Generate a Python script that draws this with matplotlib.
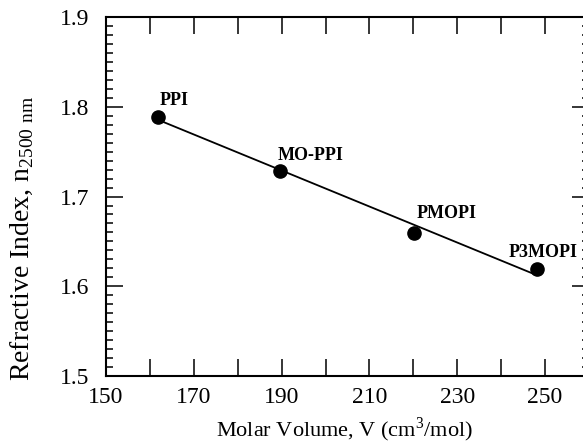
import numpy as np
import matplotlib.pyplot as plt
from matplotlib.ticker import MultipleLocator, FuncFormatter

# data
names = ['PPI', 'MO-PPI', 'PMOPI', 'P3MOPI']
molar_volume = [161.9, 189.6, 220.2, 248.1]
ref_index = [1.789, 1.729, 1.659, 1.619]
label_dx = [0.4, -0.6, 0.6, -6.3]
label_dy = [0.013, 0.012, 0.017, 0.0136]

plt.rcParams['font.family'] = ['Liberation Serif', 'DejaVu Serif']
plt.rcParams['mathtext.fontset'] = 'custom'
plt.rcParams['mathtext.rm'] = 'Liberation Serif'

fig = plt.figure(figsize=(5.83, 4.45), dpi=100)
ax = fig.add_axes([0.1818, 0.155, 0.8285, 0.8067])

# linear fit through the points
k, b = np.polyfit(molar_volume, ref_index, 1)
xs = np.array([molar_volume[0], molar_volume[-1]])
ax.plot(xs, k * xs + b, color='black', lw=1.3)
ax.plot(molar_volume, ref_index, 'o', color='black', markersize=9.5)

for n, x, y, dx, dy in zip(names, molar_volume, ref_index, label_dx, label_dy):
    ax.text(x + dx, y + dy, n, fontsize=13, fontweight='bold', ha='left', va='baseline')

ax.set_xlim(150, 260)
ax.set_ylim(1.5, 1.9)
ax.xaxis.set_major_locator(MultipleLocator(10))
ax.xaxis.set_major_formatter(FuncFormatter(lambda v, p: '%d' % v if round(v - 150) % 20 == 0 else ''))
ax.yaxis.set_major_locator(MultipleLocator(0.1))
ax.yaxis.set_minor_locator(MultipleLocator(0.01))
ax.yaxis.set_major_formatter(FuncFormatter(lambda v, p: '%.1f' % v))

ax.tick_params(which='both', direction='in', top=True, right=True, labelsize=17, width=1.1)
ax.tick_params(which='major', length=12)
ax.tick_params(which='minor', length=5)
ax.tick_params(axis='x', pad=8)
ax.tick_params(axis='y', pad=12)
for s in ax.spines.values():
    s.set_linewidth(1.5)

ax.set_xlabel('Molar Volume, V (cm$^3$/mol)', fontsize=16)
ax.set_ylabel('Refractive Index, n$_{\\mathregular{2500\\ nm}}$', fontsize=20)
ax.xaxis.set_label_coords(0.494, -0.11)
ax.yaxis.set_label_coords(-0.145, 0.385)

fig.savefig('out.png', dpi=100)
